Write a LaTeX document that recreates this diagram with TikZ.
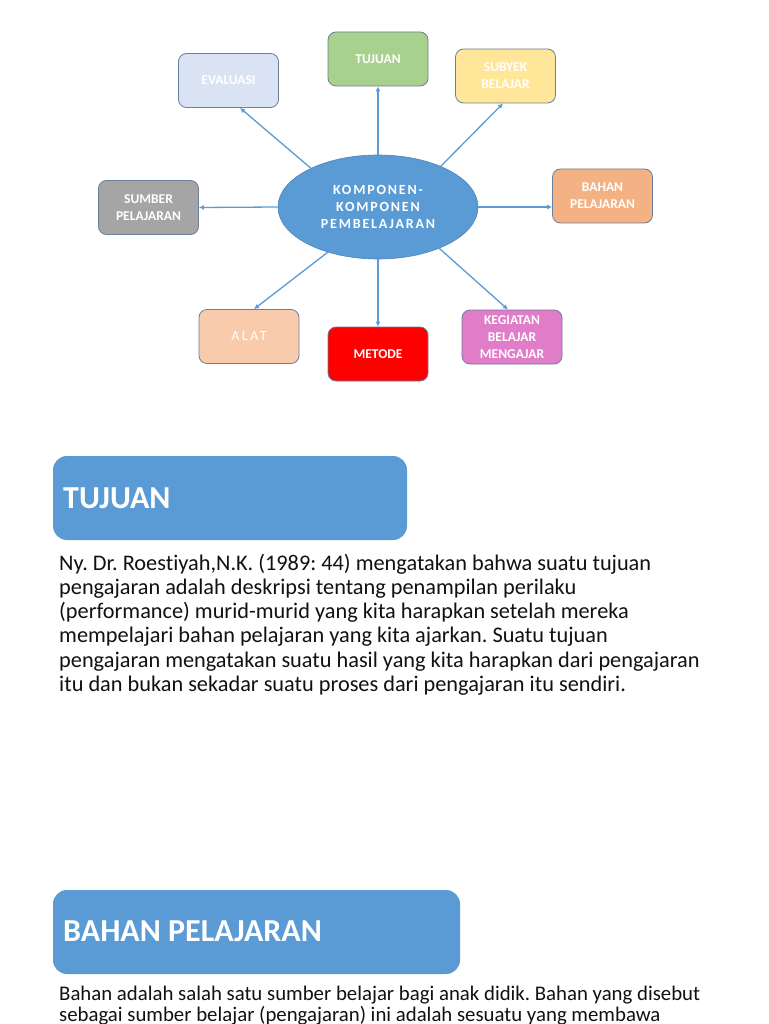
\documentclass[tikz,border=0pt]{standalone}
\usepackage{fontspec}
\setmainfont[Ligatures=NoCommon]{Carlito}
\newfontfamily\ellfont[LetterSpace=13]{Carlito}
\newfontfamily\headfont{Carlito}
\newfontfamily\thinfont[LetterSpace=18]{Carlito}
\usetikzlibrary{calc,arrows.meta,shapes.geometric}
\definecolor{arrowblue}{HTML}{5B9BD5}
\definecolor{ellblue}{HTML}{5B9BD5}
\definecolor{boxline}{HTML}{6A7F9A}
\definecolor{cTuj}{HTML}{A9D18E}
\definecolor{cEva}{HTML}{DAE3F3}
\definecolor{cSub}{HTML}{FFE699}
\definecolor{cSum}{HTML}{A5A5A5}
\definecolor{cBah}{HTML}{F4B183}
\definecolor{cAla}{HTML}{F8CBAD}
\definecolor{cMet}{HTML}{FF0000}
\definecolor{cKeg}{HTML}{E17DC8}
\definecolor{bodytext}{HTML}{111111}
\begin{document}
\frenchspacing
\begin{tikzpicture}[x=1pt,y=-1pt,
  mbox/.style={rounded corners=8pt, minimum width=100pt, minimum height=54pt,
    draw=boxline, line width=0.8pt, text=white, align=center, inner sep=0pt,
    font={\bfseries\fontsize{13.5}{17}\selectfont}},
  arr/.style={draw=arrowblue, line width=1.3pt, -{Latex[length=5pt,width=5pt]}},
  headbox/.style={rounded corners=14pt, fill=ellblue, draw=none},
  headtext/.style={anchor=base west, inner sep=0pt, text=white,
    font={\headfont\bfseries\fontsize{32}{36}\selectfont}},
  bodyline/.style={anchor=base west, inner sep=0pt, text=bodytext,
    font={\fontsize{22.3}{24.3}\selectfont}},
  bodylineb/.style={anchor=base west, inner sep=0pt, text=bodytext,
    font={\fontsize{20.8}{23}\selectfont}}
]
\path[use as bounding box, fill=white] (0,0) rectangle (768,1024);

% central ellipse
\node[ellipse, minimum width=200pt, minimum height=104pt, inner sep=0pt,
  fill=ellblue, draw=ellblue!85!black, line width=0.6pt, text=white, align=center,
  font={\ellfont\bfseries\fontsize{14}{17}\selectfont}] (E) at (378,207)
  {KOMPONEN-\\KOMPONEN\\PEMBELAJARAN};

% surrounding boxes
\node[mbox, fill=cTuj] (tuj) at (378,59) {TUJUAN};
\node[mbox, fill=cEva] (eva) at (228.5,80.5) {EVALUASI};
\node[mbox, fill=cSub] (sub) at (505.5,76) {SUBYEK\\BELAJAR};
\node[mbox, fill=cSum] (sum) at (148.5,207.5) {SUMBER\\PELAJARAN};
\node[mbox, fill=cBah] (bah) at (602.5,196) {BAHAN\\PELAJARAN};
\node[mbox, fill=cAla, font={\thinfont\fontsize{14}{17}\selectfont}] (ala) at (249,336.5) {ALAT};
\node[mbox, fill=cMet] (met) at (378,354) {METODE};
\node[mbox, fill=cKeg] (keg) at (512,337) {KEGIATAN\\BELAJAR\\MENGAJAR};

% connectors
\draw[arr] (E.north) -- (tuj.south);
\draw[arr] (E.150.7) -- ($(eva.south)+(11.5,0)$);
\draw[arr] (E.33.4) -- ($(sub.south)+(-2.5,0)$);
\draw[arr] (E.west) -- (sum.east);
\draw[arr] (E.east) -- ($(bah.west)+(0,11)$);
\draw[arr] (E.222) -- ($(ala.north)+(5,0)$);
\draw[arr] (E.south) -- (met.north);
\draw[arr] (E.326.6) -- ($(keg.north)+(-4,0)$);

% section TUJUAN
\path[headbox] (53,456) rectangle (407,540);
\node[headtext] (h1) at (63,508.5) {TUJUAN};
\node[bodyline] (t1) at (59,570) {Ny. Dr. Roestiyah,N.K. (1989: 44) mengatakan bahwa suatu tujuan};
\node[bodyline] (t2) at (59,594.3) {pengajaran adalah deskripsi tentang penampilan perilaku};
\node[bodyline] (t3) at (59,618.6) {(performance) murid-murid yang kita harapkan setelah mereka};
\node[bodyline] (t4) at (59,642.9) {mempelajari bahan pelajaran yang kita ajarkan. Suatu tujuan};
\node[bodyline] (t5) at (59,667.2) {pengajaran mengatakan suatu hasil yang kita harapkan dari pengajaran};
\node[bodyline] (t6) at (59,691.5) {itu dan bukan sekadar suatu proses dari pengajaran itu sendiri.};

% section BAHAN PELAJARAN
\path[headbox] (53,890) rectangle (460,974);
\node[headtext] (h2) at (63,941.5) {BAHAN PELAJARAN};
\node[bodylineb] (b1) at (59,1000) {Bahan adalah salah satu sumber belajar bagi anak didik. Bahan yang disebut};
\node[bodylineb] (b2) at (59,1021.5) {sebagai sumber belajar (pengajaran) ini adalah sesuatu yang membawa};
\end{tikzpicture}
\end{document}
